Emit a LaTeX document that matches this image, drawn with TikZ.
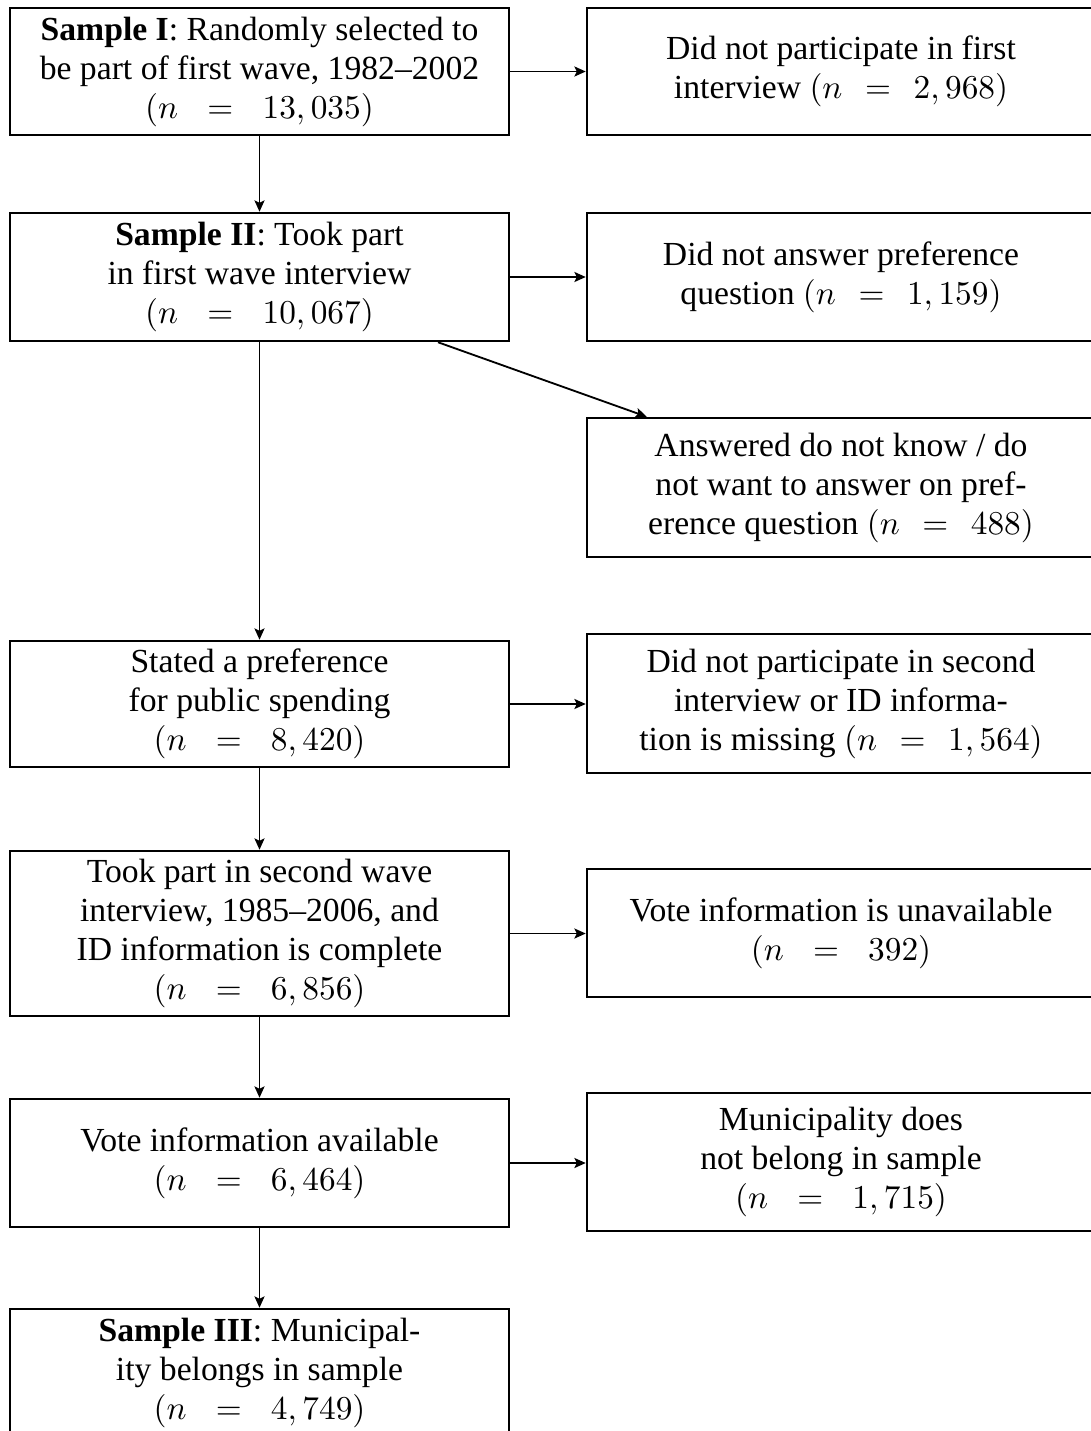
\documentclass[tikz,border=0pt]{standalone}
\usepackage{fontspec}
\setmainfont{Liberation Serif}
\usetikzlibrary{arrows.meta,calc}
\newcommand\nval[2]{$(n\hspace{#1}=\hspace{#1}#2)$}
\begin{document}
\begin{tikzpicture}[x=0.3pt,y=-0.3pt,
  box/.style={draw, line width=0.75pt, align=center, inner sep=1pt, font=\fontsize{10.1}{11.7}\selectfont},
  lbox/.style={box, minimum width=149.7pt},
  rbox/.style={box, minimum width=152.4pt},
  arr/.style={line width=0.55pt, -{Stealth[length=3.4pt,width=3pt,inset=0.7pt]}}]
\path[use as bounding box] (0,0) rectangle (1091,1431);
\clip (0,0) rectangle (1091,1431);
% left column
\node[lbox, minimum height=38.1pt] (s1) at (259.5,71.5)
  {\textbf{Sample I}: Randomly selected to\\ be part of first wave, 1982--2002\\ \nval{6pt}{13,035}};
\node[lbox, minimum height=38.4pt] (s2) at (259.5,277)
  {\textbf{Sample II}: Took part\\ in first wave interview\\ \nval{6pt}{10,067}};
\node[lbox, minimum height=37.8pt] (s3) at (259.5,704)
  {Stated a preference\\ for public spending\\ \nval{6pt}{8,420}};
\node[lbox, minimum height=49.5pt] (s4) at (259.5,933.5)
  {Took part in second wave\\ interview, 1985--2006, and\\ ID information is complete\\ \nval{6pt}{6,856}};
\node[lbox, minimum height=38.4pt] (s5) at (259.5,1163)
  {Vote information available\\ \nval{6pt}{6,464}};
\node[lbox, minimum height=38.4pt] (s6) at (259.5,1373)
  {\textbf{Sample III}: Municipal-\\ ity belongs in sample\\ \nval{6pt}{4,749}};
% right column
\node[rbox, minimum height=38.1pt] (r1) at (841,71.5)
  {Did not participate in first\\ interview \nval{4pt}{2,968}};
\node[rbox, minimum height=38.4pt] (r2) at (841,277)
  {Did not answer preference\\ question \nval{4pt}{1,159}};
\node[rbox, minimum height=41.7pt] (r3) at (841,487.5)
  {Answered do not know / do\\ not want to answer on pref-\\ erence question \nval{4pt}{488}};
\node[rbox, minimum height=41.7pt] (r4) at (841,703.5)
  {Did not participate in second\\ interview or ID informa-\\ tion is missing \nval{4pt}{1,564}};
\node[rbox, minimum height=38.4pt] (r5) at (841,933)
  {Vote information is unavailable\\ \nval{6pt}{392}};
\node[rbox, minimum height=41.4pt] (r6) at (841,1162)
  {Municipality does\\ not belong in sample\\ \nval{6pt}{1,715}};
% connectors
\draw[arr] (s1.south) -- (s2.north);
\draw[arr] (s2.south) -- (s3.north);
\draw[arr] (s3.south) -- (s4.north);
\draw[arr] (s4.south) -- (s5.north);
\draw[arr] (s5.south) -- (s6.north);
\draw[arr] (s1.east) -- (s1.east -| r1.west);
\draw[arr] (s2.east) -- (s2.east -| r2.west);
\draw[arr] (s3.east) -- (s3.east -| r4.west);
\draw[arr] (s4.east) -- (s4.east -| r5.west);
\draw[arr] (s5.east) -- (s5.east -| r6.west);
\coordinate (d0) at ($(s2.south)+(178.5,0)$);
\coordinate (d1) at ($(r3.north west)+(61,0)$);
\draw[arr] (d0) -- (d1);
\end{tikzpicture}
\end{document}
